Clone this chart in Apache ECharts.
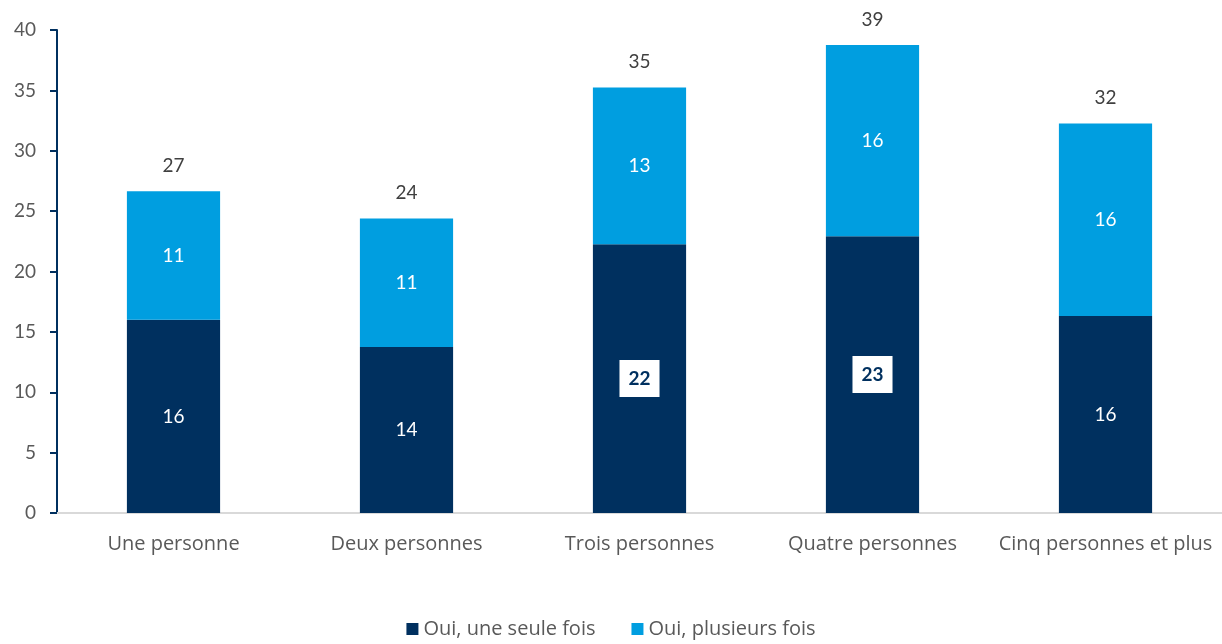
<!DOCTYPE html>
<html>
<head>
<meta charset="utf-8">
<script src="https://cdn.jsdelivr.net/npm/echarts@6/dist/echarts.min.js"></script>
<style>
  html, body { margin: 0; padding: 0; background: #fff; }
  #chart { width: 1222px; height: 644px; }
</style>
</head>
<body>
<div id="chart"></div>
<script>
// categories and values
const categories = ["Une personne", "Deux personnes", "Trois personnes", "Quatre personnes", "Cinq personnes et plus"];
const uneSeuleFois = [16.0, 13.75, 22.26, 22.92, 16.32];
const plusieursFois = [10.65, 10.64, 12.98, 15.83, 15.94];
const highlighted = [2, 3]; // bars whose label is boxed in white
const yTicks = [0, 5, 10, 15, 20, 25, 30, 35, 40];

const dark = "#00305F";
const light = "#009EE0";
const font = "Lato";
const textFont = "Open Sans";

const totals = uneSeuleFois.map((v, i) => v + plusieursFois[i]);

let chart = echarts.init(document.getElementById("chart"));
let option = {
  animation: false,
  textStyle: { fontFamily: font },
  grid: { left: 57, right: 0, top: 30, bottom: 131 },
  legend: {
    bottom: 0,
    left: "center",
    itemWidth: 12,
    itemHeight: 12,
    itemGap: 36,
    icon: "rect",
    data: ["Oui, une seule fois", "Oui, plusieurs fois"],
    textStyle: { fontFamily: textFont, fontSize: 20, color: "#595959" }
  },
  xAxis: {
    type: "category",
    data: categories,
    axisLine: { lineStyle: { color: "#d9d9d9", width: 2 } },
    axisTick: { show: false },
    axisLabel: { interval: 0, margin: 21, fontSize: 20, color: "#595959", fontFamily: textFont }
  },
  yAxis: {
    type: "value",
    min: yTicks[0],
    max: yTicks[yTicks.length - 1],
    interval: 5,
    splitLine: { show: false },
    axisLine: { show: true, lineStyle: { color: dark, width: 2 } },
    axisTick: { show: true, length: 7, lineStyle: { color: dark, width: 2 } },
    axisLabel: { margin: 21, fontSize: 19, color: "#595959", fontFamily: font }
  },
  series: [
    {
      name: "Oui, une seule fois",
      type: "bar",
      stack: "total",
      barWidth: "40%",
      itemStyle: { color: dark },
      label: {
        show: true,
        position: "inside",
        color: "#fff",
        fontSize: 19,
        formatter: p => Math.round(p.value)
      },
      data: uneSeuleFois.map((v, i) => {
        if (highlighted.indexOf(i) < 0) return v;
        return {
          value: v,
          label: {
            backgroundColor: "#fff",
            color: dark,
            fontWeight: "bold",
            padding: [10, 9, 8, 9]
          }
        };
      })
    },
    {
      name: "Oui, plusieurs fois",
      type: "bar",
      stack: "total",
      itemStyle: { color: light },
      label: {
        show: true,
        position: "inside",
        color: "#fff",
        fontSize: 19,
        formatter: p => Math.round(p.value)
      },
      data: plusieursFois
    },
    {
      // empty bar on top of the stack, only used to carry the total label
      name: "total",
      type: "bar",
      stack: "total",
      itemStyle: { color: "transparent" },
      label: {
        show: true,
        position: "top",
        distance: 16,
        color: "#404040",
        fontSize: 19,
        formatter: p => Math.round(totals[p.dataIndex])
      },
      data: totals.map(() => 0)
    }
  ]
};
chart.setOption(option);
window.addEventListener("resize", () => chart.resize());
</script>
</body>
</html>
